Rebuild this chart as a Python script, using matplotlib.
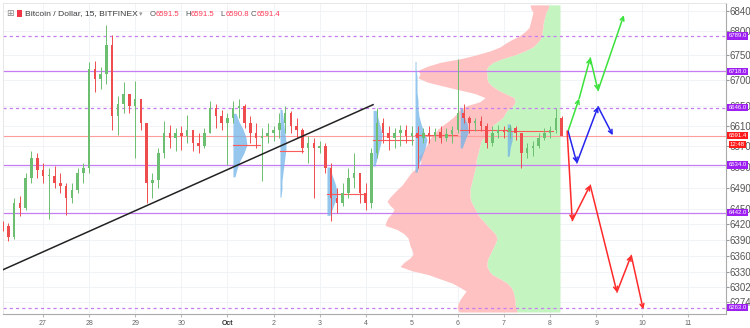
import numpy as np
import matplotlib
matplotlib.use("Agg")
import matplotlib.pyplot as plt
from matplotlib.patches import Rectangle
from matplotlib.ticker import NullLocator, NullFormatter
from matplotlib.transforms import blended_transform_factory

plt.rcParams['font.family'] = ['Liberation Sans', 'DejaVu Sans']

# ==================================
# DATA  (x in days since Sep 27 00:00)
# ==================================

date_ticks = [0, 1, 2, 3, 4, 5, 6, 7, 8, 9, 10, 11, 12, 13, 14]
date_labels = ["27", "28", "29", "30", "Oct", "2", "3", "4", "5", "6", "7", "8", "9", "10", "11"]

price_ticks = [6840, 6800, 6750, 6700, 6650, 6610, 6570, 6530, 6490,
               6450, 6420, 6390, 6360, 6330, 6302, 6274]

# 3 hour candles, first one at Sep 26 03:00
candle_start = -0.875
candle_step = 0.125
first_open = 6425
highs = [6427, 6422, 6470, 6474, 6519, 6561, 6557, 6538, 6528, 6532,
         6519, 6499, 6499, 6528, 6538, 6736, 6738, 6726, 6811, 6790,
         6670, 6697, 6674, 6699, 6664, 6616, 6519, 6567, 6619, 6612,
         6606, 6610, 6631, 6600, 6596, 6606, 6660, 6654, 6641, 6635,
         6660, 6664, 6654, 6629, 6616, 6606, 6616, 6610, 6635, 6649,
         6639, 6625, 6606, 6590, 6586, 6581, 6577, 6538, 6489, 6499,
         6528, 6557, 6519, 6499, 6567, 6645, 6625, 6610, 6606, 6612,
         6612, 6610, 6610, 6606, 6610, 6606, 6610, 6606, 6610, 6742,
         6654, 6629, 6625, 6629, 6616, 6610, 6612, 6610, 6612, 6610,
         6596, 6577, 6581, 6596, 6606, 6610, 6645, 6629]
lows = [6408, 6389, 6392, 6435, 6447, 6499, 6509, 6499, 6431, 6489,
        6480, 6437, 6460, 6480, 6499, 6519, 6678, 6683, 6693, 6602,
        6592, 6635, 6635, 6548, 6602, 6460, 6470, 6489, 6548, 6567,
        6561, 6563, 6577, 6561, 6557, 6567, 6596, 6606, 6602, 6534,
        6616, 6625, 6606, 6577, 6567, 6503, 6577, 6581, 6586, 6596,
        6596, 6586, 6557, 6538, 6470, 6557, 6519, 6427, 6441, 6455,
        6470, 6489, 6460, 6447, 6451, 6548, 6577, 6563, 6567, 6571,
        6577, 6573, 6528, 6577, 6577, 6581, 6577, 6581, 6577, 6596,
        6616, 6596, 6600, 6600, 6567, 6571, 6586, 6586, 6586, 6583,
        6528, 6548, 6551, 6567, 6583, 6586, 6596, 6594]
closes = [6416, 6396, 6460, 6451, 6509, 6548, 6524, 6513, 6513, 6499,
          6493, 6470, 6486, 6519, 6528, 6722, 6703, 6713, 6771, 6629,
          6654, 6674, 6649, 6664, 6616, 6499, 6505, 6557, 6596, 6586,
          6596, 6590, 6602, 6577, 6571, 6596, 6645, 6629, 6616, 6625,
          6645, 6649, 6616, 6596, 6586, 6590, 6596, 6602, 6616, 6635,
          6610, 6602, 6567, 6577, 6567, 6571, 6528, 6470, 6460, 6480,
          6509, 6519, 6480, 6460, 6557, 6616, 6596, 6586, 6596, 6602,
          6590, 6596, 6586, 6596, 6590, 6598, 6586, 6594, 6602, 6635,
          6625, 6616, 6619, 6610, 6577, 6596, 6602, 6598, 6606, 6596,
          6557, 6567, 6571, 6586, 6596, 6602, 6625, 6591.4]

levels_solid = [6718.0, 6534.0, 6442.0]
levels_dashed = [6789.0, 6646.0, 6263.0]
last_price = 6591.4
last_time = "12:48"

# trend line
trend_x = [-0.868, 7.16]
trend_y = [6334, 6652]

# visible range volume profile (rows), anchored at the right
vp_anchor = 11.215
vp_price = [6852, 6844, 6837, 6829, 6821, 6813, 6806, 6798, 6790, 6782,
            6775, 6767, 6759, 6751, 6744, 6736, 6728, 6720, 6713, 6705,
            6697, 6689, 6681, 6674, 6666, 6658, 6650, 6643, 6635, 6627,
            6619, 6612, 6604, 6596, 6588, 6581, 6573, 6565, 6557, 6550,
            6542, 6534, 6526, 6519, 6511, 6503, 6495, 6488, 6480, 6472,
            6464, 6456, 6449, 6441, 6433, 6425, 6418, 6410, 6402, 6394,
            6387, 6379, 6371, 6363, 6356, 6348, 6340, 6332, 6325, 6317,
            6309, 6301, 6294, 6286, 6278, 6270, 6263, 6255]
vp_up = [11, 12, 14, 15, 16, 17, 17, 18, 18, 20,
         23, 27, 35, 45, 57, 67, 72, 74, 73, 73,
         72, 68, 62, 55, 46, 45, 47, 52, 55, 57,
         62, 67, 69, 71, 76, 79, 80, 81, 82, 83,
         84, 84, 85, 86, 87, 88, 89, 90, 90, 90,
         89, 87, 85, 83, 80, 76, 73, 69, 65, 63,
         64, 66, 68, 70, 72, 73, 73, 71, 68, 60,
         53, 49, 47, 46, 45, 45, 44, 43]
vp_down = [19, 17, 13, 13, 13, 13, 14, 17, 22, 28,
           31, 33, 35, 39, 41, 53, 61, 68, 67, 69,
           61, 49, 38, 30, 29, 35, 46, 48, 48, 50,
           50, 50, 53, 54, 53, 53, 53, 55, 56, 59,
           55, 56, 60, 63, 65, 67, 69, 72, 76, 80,
           84, 83, 81, 85, 92, 98, 102, 94, 91, 89,
           87, 84, 80, 77, 78, 83, 87, 77, 64, 60,
           55, 51, 47, 51, 55, 57, 59, 58]
vp_scale = 1 / 46.1   # days per volume unit

# session volume profiles
session_anchor = [4.12, 5.14, 6.16, 7.16, 8.07, 9.05, 10.07]
session_price = [
    [6635, 6619, 6604, 6588, 6573, 6557, 6542, 6526, 6511],
    [6643, 6627, 6612, 6596, 6581, 6565, 6550, 6534, 6519, 6503, 6487, 6472],
    [6530, 6515, 6499, 6484, 6468, 6453, 6437],
    [6641, 6625, 6610, 6594, 6579, 6563, 6548, 6532],
    [6738, 6722, 6707, 6691, 6676, 6660, 6645, 6629, 6614, 6598, 6583, 6567, 6551, 6536, 6520],
    [6645, 6629, 6614, 6598, 6583, 6567],
    [6614, 6598, 6583, 6567, 6551],
]
session_volume = [
    [3, 6, 10, 13, 14, 11, 7, 4, 2],
    [2, 3, 4, 5, 6, 6, 5, 4, 3, 2, 2, 1],
    [3, 5, 8, 10, 9, 6, 3],
    [3, 5, 7, 9, 8, 6, 4, 2],
    [1, 1, 2, 2, 2, 3, 3, 4, 6, 9, 12, 10, 7, 4, 2],
    [2, 4, 7, 8, 5, 2],
    [3, 5, 5, 3, 2],
]
session_poc = [6573, 6561, 6478, 6583, 6592, 6602, 6600]
session_poc_end = [4.71, 5.64, 7.0, 8.03, 8.98, 10.07, 11.06]

# forecast paths
green_x = [11.39, 11.63, 11.87, 12.04, 12.60]
green_y = [6600, 6664, 6745, 6680, 6831]
blue_x = [11.39, 11.58, 12.04, 12.36]
blue_y = [6600, 6538, 6648, 6592]
red_x = [11.37, 11.48, 11.87, 12.45, 12.76, 13.02]
red_y = [6600, 6427, 6495, 6292, 6361, 6260]

# ==================================
# FIGURE
# ==================================

fig = plt.figure(figsize=(7.5, 3.28), dpi=100)
ax = fig.add_axes([3 / 750, 1 - 314 / 328, 723 / 750, 311 / 328])
ax.set_yscale("log")
ax.set_xlim(-0.868, 14.816)
ax.set_ylim(6251.3, 6855.8)

ax.set_yticks(price_ticks, labels=[str(p) for p in price_ticks])
ax.yaxis.set_minor_locator(NullLocator())
ax.yaxis.set_minor_formatter(NullFormatter())
ax.yaxis.tick_right()
ax.tick_params(axis="y", length=2, pad=0.6, labelsize=7, color="#999999", labelcolor="#555555")

ax.set_xticks(date_ticks, labels=date_labels)
ax.tick_params(axis="x", length=2.5, pad=1.5, labelsize=5, color="#bbbbbb", labelcolor="#666666")
for lab in ax.get_xticklabels():
    if lab.get_text() == "Oct":
        lab.set_fontweight("bold")
        lab.set_color("#333333")

ax.set_axisbelow(True)
ax.grid(True, color="#eef2f6", lw=0.6)

for side in ["left", "top"]:
    ax.spines[side].set_color("#e3e3e3")
    ax.spines[side].set_linewidth(0.6)
for side in ["right", "bottom"]:
    ax.spines[side].set_color("#aaaaaa")
    ax.spines[side].set_linewidth(0.8)

# ==================================
# VOLUME PROFILE
# ==================================

up_w = np.array(vp_up) * vp_scale
down_w = np.array(vp_down) * vp_scale
ax.fill_betweenx(vp_price, vp_anchor - up_w, vp_anchor,
                 color="#c4f5c1", lw=0, zorder=1)
ax.fill_betweenx(vp_price, vp_anchor - up_w - down_w, vp_anchor - up_w,
                 color="#ffc2c2", lw=0, zorder=1)

# session profiles
for anchor, prices, vols, poc, poc_end in zip(session_anchor, session_price,
                                              session_volume, session_poc, session_poc_end):
    w = np.array(vols) * vp_scale
    ax.fill_betweenx(prices, anchor, anchor + w, color="#72b4e8", alpha=0.75, lw=0, zorder=3)
    ax.plot([anchor, poc_end], [poc, poc], color="#ff5a5a", lw=0.8, zorder=3)

# ==================================
# LEVELS
# ==================================

for lv in levels_solid:
    ax.axhline(lv, color="#c77cf2", lw=0.9, zorder=2)
for lv in levels_dashed:
    ax.axhline(lv, color="#c77cf2", lw=0.9, dashes=(2.5, 2.5), zorder=2)
ax.axhline(last_price, color="#ff9c9c", lw=0.8, zorder=2)

# ==================================
# CANDLES
# ==================================

t = candle_start + candle_step * np.arange(len(closes))
opens = [first_open] + closes[:-1]
cols = ["#6cbf70" if c >= o else "#ef4d4d" for o, c in zip(opens, closes)]
bottoms = [min(o, c) for o, c in zip(opens, closes)]
heights = [max(abs(c - o), 1.0) for o, c in zip(opens, closes)]
ax.vlines(t, lows, highs, colors=cols, lw=0.7, zorder=4)
ax.bar(t, heights, bottom=bottoms, width=0.055, color=cols, lw=0, zorder=4)

# trend line
ax.plot(trend_x, trend_y, color="#222222", lw=1.1, zorder=5)

# ==================================
# FORECAST ARROWS
# ==================================

for xs, ys, c in [(green_x, green_y, "#3be23b"), (blue_x, blue_y, "#2525ee"), (red_x, red_y, "#ff2a2a")]:
    for i in range(len(xs) - 1):
        ax.annotate("", xy=(xs[i + 1], ys[i + 1]), xytext=(xs[i], ys[i]),
                    arrowprops=dict(arrowstyle="->", color=c, lw=1.1,
                                    shrinkA=0, shrinkB=0, mutation_scale=7),
                    zorder=6)

# ==================================
# PRICE TAGS
# ==================================

trans = blended_transform_factory(ax.transAxes, ax.transData)


def price_tag(price, text, color, dy=0):
    ax.annotate(text, xy=(1.0, price), xycoords=trans,
                xytext=(8.3, dy), textcoords="offset points",
                ha="center", va="center", fontsize=4.3, color="white",
                bbox=dict(boxstyle="square,pad=0.2", fc=color, ec="none"),
                annotation_clip=False, zorder=10)


for lv in levels_solid + levels_dashed:
    price_tag(lv, f"{lv:.1f}", "#9d1ff2")
price_tag(last_price, f"{last_price:.1f}", "#ff1a1a")
price_tag(last_price, last_time, "#ff1a1a", dy=-6.5)

# ==================================
# HEADER
# ==================================

def fx(px):
    return px / 750


def fy(py):
    return 1 - py / 328


fig.text(fx(9.5), fy(14), "\u229e", family="DejaVu Sans", fontsize=6.5,
         color="#888888", ha="center", va="center")
fig.patches.append(Rectangle((fx(17), fy(17)), 5 / 750, 7 / 328,
                             transform=fig.transFigure, fc="#f23645", ec="none"))
fig.text(fx(25), fy(14), "Bitcoin / Dollar, 15, BITFINEX", fontsize=6.1,
         color="#3a3a3a", va="center")
fig.text(fx(141), fy(14), "\u25be", family="DejaVu Sans", fontsize=5,
         color="#999999", va="center", ha="center")
ohlc = [(150, "O", "6591.5"), (185, "H", "6591.5"), (220, "L", "6590.8"), (251, "C", "6591.4")]
for px, key, val in ohlc:
    fig.text(fx(px), fy(14), key, fontsize=5.6, color="#555555", va="center")
    fig.text(fx(px + 5.5), fy(14), val, fontsize=5.6, color="#ff3b57", va="center")

fig.savefig("out.png", dpi=100)
